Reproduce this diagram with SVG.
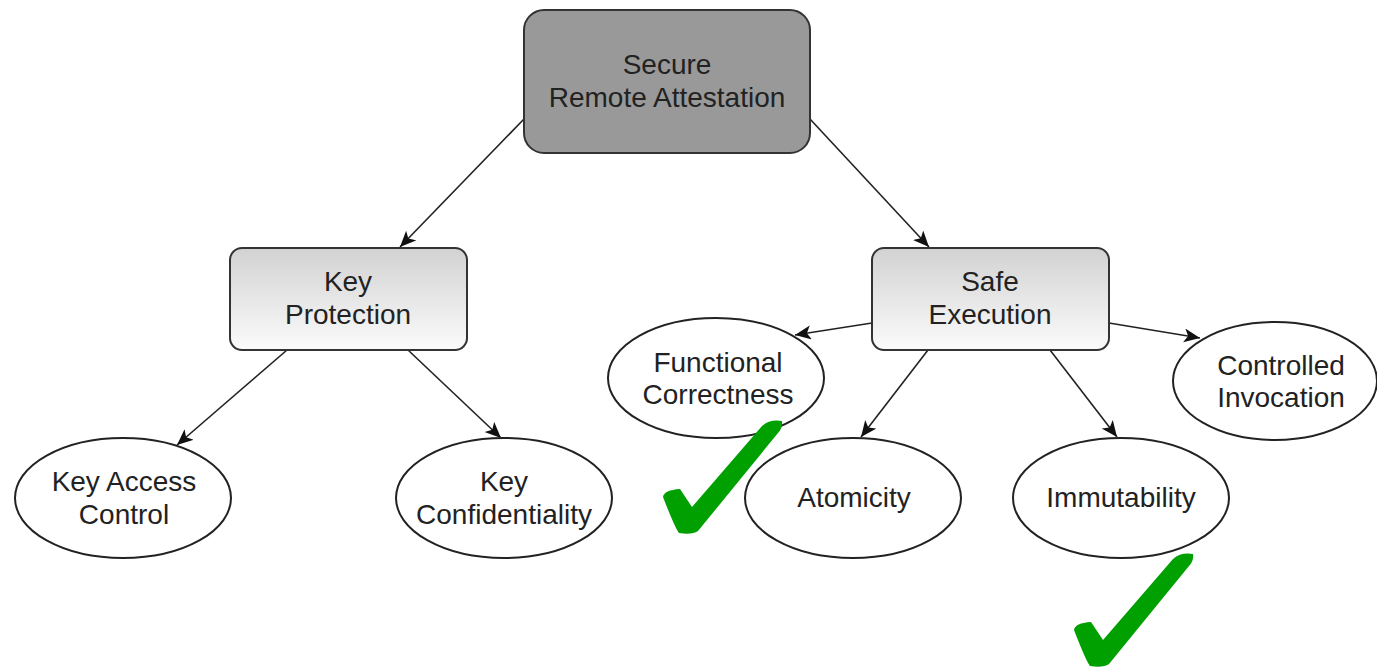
<svg xmlns="http://www.w3.org/2000/svg" width="1377" height="667" viewBox="0 0 1377 667">
<defs>
<linearGradient id="g" x1="0" y1="0" x2="0" y2="1">
<stop offset="0" stop-color="#d2d2d2"/>
<stop offset="1" stop-color="#fbfbfb"/>
</linearGradient>
<marker id="arr" markerWidth="18" markerHeight="16" refX="16" refY="7" orient="auto" markerUnits="userSpaceOnUse">
<path d="M0,0 L16,7 L0,14 L4,7 Z" fill="#111"/>
</marker>
</defs>
<style>
text{font-family:"Liberation Sans",Arial,sans-serif;font-size:28px;fill:#222;text-anchor:middle}
.box{stroke:#333;stroke-width:2}
.ell{fill:#fff;stroke:#222;stroke-width:2}
.edge{stroke:#222;stroke-width:1.6;fill:none;marker-end:url(#arr)}
.chk{fill:#00a000}
</style>
<rect width="1377" height="667" fill="#fff"/>
<g id="connectors">
<line class="edge" x1="524" y1="119" x2="400" y2="247"/>
<line class="edge" x1="810" y1="119" x2="929" y2="247"/>
<line class="edge" x1="287" y1="350" x2="177" y2="445"/>
<line class="edge" x1="408" y1="350" x2="501" y2="438"/>
<line class="edge" x1="872" y1="323" x2="795" y2="335"/>
<line class="edge" x1="928" y1="350" x2="861" y2="437"/>
<line class="edge" x1="1050" y1="350" x2="1117" y2="437"/>
<line class="edge" x1="1109" y1="323" x2="1200" y2="338"/>
</g>
<g id="n-secure">
<rect class="box" x="524" y="10" width="286" height="143" rx="20" fill="#999"/>
<text x="667" y="74">Secure</text>
<text x="667" y="107">Remote Attestation</text>
</g>
<g id="n-keyprot">
<rect class="box" x="230" y="248" width="237" height="102" rx="12" fill="url(#g)"/>
<text x="348" y="291">Key</text>
<text x="348" y="324">Protection</text>
</g>
<g id="n-safeexec">
<rect class="box" x="872" y="248" width="237" height="102" rx="12" fill="url(#g)"/>
<text x="990" y="291">Safe</text>
<text x="990" y="324">Execution</text>
</g>
<g id="n-func">
<ellipse class="ell" cx="716" cy="378" rx="108" ry="60"/>
<text x="718" y="372">Functional</text>
<text x="718" y="404">Correctness</text>
</g>
<g id="n-ctrl">
<ellipse class="ell" cx="1275" cy="381" rx="102" ry="59"/>
<text x="1281" y="375">Controlled</text>
<text x="1281" y="407">Invocation</text>
</g>
<g id="n-kac">
<ellipse class="ell" cx="123" cy="498" rx="108" ry="60"/>
<text x="124" y="491">Key Access</text>
<text x="124" y="524">Control</text>
</g>
<g id="n-kc">
<ellipse class="ell" cx="504" cy="498" rx="108" ry="60"/>
<text x="504" y="491">Key</text>
<text x="504" y="524">Confidentiality</text>
</g>
<g id="n-atom">
<ellipse class="ell" cx="853" cy="498" rx="108" ry="60"/>
<text x="854" y="507">Atomicity</text>
</g>
<g id="n-immut">
<ellipse class="ell" cx="1121" cy="498" rx="108" ry="60"/>
<text x="1121" y="507">Immutability</text>
</g>
<g id="checks">
<path class="chk" d="M663,497 Q664,490 680,489 L692,507 L762,426 Q770,419 782,421 Q783,428 778,433 L698,531 Q692,535 679,533 Q675,528 663,497 Z"/>
<path class="chk" transform="translate(411,133)" d="M663,497 Q664,490 680,489 L692,507 L762,426 Q770,419 782,421 Q783,428 778,433 L698,531 Q692,535 679,533 Q675,528 663,497 Z"/>
</g>
</svg>
